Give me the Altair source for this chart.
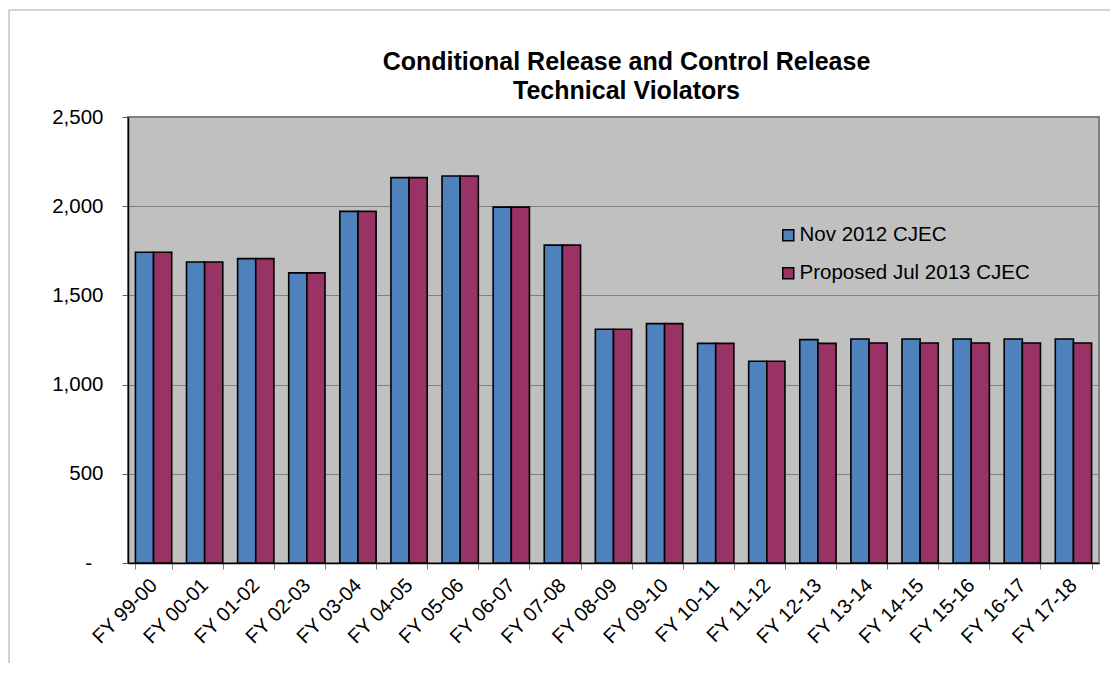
import altair as alt
import pandas as pd

years = ["FY 99-00", "FY 00-01", "FY 01-02", "FY 02-03", "FY 03-04", "FY 04-05",
         "FY 05-06", "FY 06-07", "FY 07-08", "FY 08-09", "FY 09-10", "FY 10-11",
         "FY 11-12", "FY 12-13", "FY 13-14", "FY 14-15", "FY 15-16", "FY 16-17",
         "FY 17-18"]
series_names = ["Nov 2012 CJEC", "Proposed Jul 2013 CJEC"]
nov_2012 = [1742, 1687, 1706, 1626, 1971, 2160, 2169, 1995, 1782, 1310, 1342,
            1231, 1131, 1252, 1256, 1256, 1256, 1256, 1256]
jul_2013 = [1742, 1687, 1706, 1626, 1971, 2160, 2169, 1995, 1782, 1310, 1342,
            1231, 1131, 1231, 1233, 1233, 1233, 1233, 1233]
y_ticks = [0, 500, 1000, 1500, 2000, 2500]
colors = ["#4F81BD", "#993366"]

rows = []
for i, yr in enumerate(years):
    rows.append({"year": yr, "series": series_names[0], "value": nov_2012[i]})
    rows.append({"year": yr, "series": series_names[1], "value": jul_2013[i]})
df = pd.DataFrame(rows)

FONT = "Liberation Sans"

bars = alt.Chart(df).mark_bar(stroke="black", strokeWidth=1.6).encode(
    x=alt.X("year:N", sort=years,
            scale=alt.Scale(paddingInner=0.29, paddingOuter=0.145),
            axis=alt.Axis(title=None, labelAngle=-45, labelAlign="right",
                          labelBaseline="middle", labelFontSize=20,
                          labelFont=FONT, labelColor="black",
                          tickBand="extent", tickSize=6, tickColor="#808080",
                          domainColor="black", domainWidth=1.5,
                          labelPadding=13, grid=False)),
    xOffset=alt.XOffset("series:N", sort=series_names,
                        scale=alt.Scale(domain=series_names)),
    y=alt.Y("value:Q",
            scale=alt.Scale(domain=[0, 2500], nice=False),
            axis=alt.Axis(title=None, values=y_ticks,
                          labelExpr="datum.value == 0 ? '-\u00a0\u00a0\u200b' : format(datum.value, ',')",
                          labelFontSize=20.5, labelFont=FONT, labelColor="black",
                          gridColor="#808080", gridWidth=1,
                          domainColor="black", domainWidth=1.5,
                          tickColor="#606060", tickSize=6, labelPadding=19)),
    color=alt.Color("series:N", sort=series_names,
                    scale=alt.Scale(domain=series_names, range=colors),
                    legend=alt.Legend(title=None, orient="none",
                                      legendX=650, legendY=108,
                                      symbolType="square", symbolSize=121,
                                      symbolStrokeColor="black",
                                      symbolStrokeWidth=1.5,
                                      labelFontSize=20.5, labelFont=FONT,
                                      labelColor="black", labelOffset=1,
                                      labelLimit=0, rowPadding=17)),
)

border_df = pd.DataFrame({"k": [0]})
border_v = alt.Chart(border_df).mark_rule(color="#A6A6A6", strokeWidth=1).encode(
    x=alt.value(-119), y=alt.value(-107), y2=alt.value(600))
border_h = alt.Chart(border_df).mark_rule(color="#A6A6A6", strokeWidth=1).encode(
    x=alt.value(-119), x2=alt.value(1000), y=alt.value(-107))

chart = alt.layer(border_v, border_h, bars).properties(
    width=971, height=446,
    title=alt.TitleParams(
        text=["Conditional Release and Control Release", "Technical Violators"],
        font=FONT, fontSize=25, fontWeight="bold", color="black",
        anchor="middle", dx=13, offset=-94, lineHeight=29),
    autosize=alt.AutoSizeParams(type="none"),
    padding={"left": 120, "top": 109, "right": 11, "bottom": 100},
).configure_view(fill="#C0C0C0", stroke="#808080", strokeWidth=2)

chart.save("out.html", embed_options={"renderer": "svg", "actions": False})
